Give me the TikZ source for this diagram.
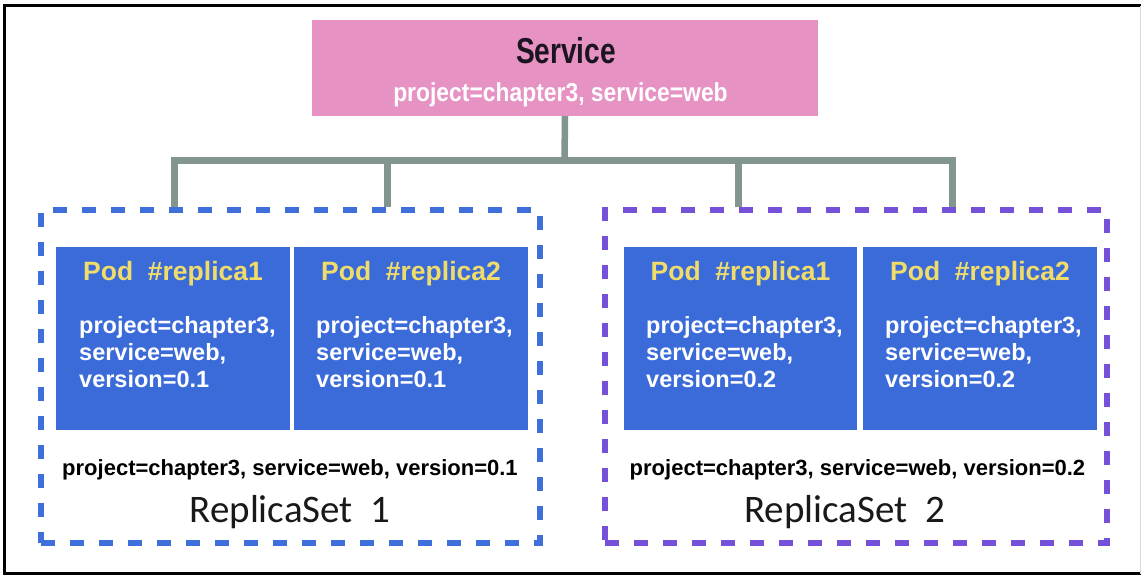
\documentclass[tikz,border=0pt]{standalone}
\usepackage{fontspec}
\setmainfont{Liberation Sans}
\newfontfamily\svcfont[FakeStretch=0.78]{Liberation Sans}
\newfontfamily\subfont[FakeStretch=0.88]{Liberation Sans}
\newfontfamily\calib{Carlito}
\definecolor{podblue}{HTML}{3B6BD9}
\definecolor{podyellow}{HTML}{F0DC6A}
\definecolor{rsblue}{HTML}{3E6FDB}
\definecolor{rspurple}{HTML}{7550D8}
\definecolor{svcpink}{HTML}{E693C4}
\definecolor{conn}{HTML}{82958F}
\definecolor{svcdark}{HTML}{1C1420}
\tikzset{
  podbox/.style={fill=podblue, draw=none, inner sep=0pt, minimum height=183pt},
  podtitle/.style={anchor=base, inner sep=0pt, text=podyellow, font=\bfseries\fontsize{26.5}{30}\selectfont},
  podline/.style={anchor=base west, inner sep=0pt, text=white, font=\bfseries\fontsize{23.5}{27}\selectfont},
  rslabel/.style={anchor=base, inner sep=0pt, text=black, font=\bfseries\fontsize{22}{26}\selectfont},
  rsname/.style={anchor=base, inner sep=0pt, text=black!90, font=\calib\fontsize{39}{44}\selectfont},
  rsbox/.style={draw=#1, line width=6pt, dash pattern=on 14pt off 15pt, inner sep=0pt, minimum width=499pt, minimum height=333pt},
  connline/.style={draw=conn, line width=6.5pt}
}
\begin{document}
\begin{tikzpicture}[x=1pt,y=-1pt]
\useasboundingbox (0,0) rectangle (1141,576);
\fill[white] (0,0) rectangle (1141,576);
% frame
\draw[line width=3pt] (1141,5.5) -- (4,5.5) -- (4,573.5) -- (1141,573.5);
\draw[black!15, line width=1pt] (1140.5,5.5) -- (1140.5,573.5);

% service
\node[fill=svcpink, inner sep=0pt, minimum width=506pt, minimum height=96pt] (svc) at (565,68) {};
\node[anchor=base, inner sep=0pt, text=svcdark, font=\svcfont\bfseries\fontsize{36}{40}\selectfont] (svct) at (566,63) {Service};
\node[anchor=base, inner sep=0pt, text=white, font=\subfont\bfseries\fontsize{26}{30}\selectfont] (svcs) at (560.5,101) {project=chapter3, service=web};

% replica sets
\node[rsbox=rsblue] (rs1) at (290.5,376.5) {};
\node[rsbox=rspurple, minimum width=502pt] (rs2) at (856,376.5) {};

% connectors
\coordinate (hub) at (564.5,160.5);
\coordinate (b1) at (174.5,160.5);
\coordinate (b2) at (387.5,160.5);
\coordinate (b3) at (738.5,160.5);
\coordinate (b4) at (952.5,160.5);
\draw[connline] (svc.south) -- (hub);
\draw[connline] ([xshift=-3.25pt]b1) -- ([xshift=3.25pt]b4);
\draw[connline] (b1) -- (b1 |- rs1.north);
\draw[connline] (b2) -- (b2 |- rs1.north);
\draw[connline] (b3) -- (b3 |- rs2.north);
\draw[connline] (b4) -- (b4 |- rs2.north);

% pods
\node[podbox, minimum width=234pt] (p11) at (173,338.5) {};
\node[podbox, minimum width=234pt] (p12) at (411,338.5) {};
\node[podbox, minimum width=233pt] (p21) at (740.5,338.5) {};
\node[podbox, minimum width=234pt] (p22) at (980,338.5) {};

\node[podtitle] (t11) at (173,280) {Pod\ \ \#replica1};
\node[podtitle] (t12) at (411,280) {Pod\ \ \#replica2};
\node[podtitle] (t21) at (740.5,280) {Pod\ \ \#replica1};
\node[podtitle] (t22) at (980,280) {Pod\ \ \#replica2};

\node[podline] (a11) at (79,333) {project=chapter3,};
\node[podline] (b11) at (79,360) {service=web,};
\node[podline] (c11) at (79,387) {version=0.1};
\node[podline] (a12) at (316,333) {project=chapter3,};
\node[podline] (b12) at (316,360) {service=web,};
\node[podline] (c12) at (316,387) {version=0.1};
\node[podline] (a21) at (646,333) {project=chapter3,};
\node[podline] (b21) at (646,360) {service=web,};
\node[podline] (c21) at (646,387) {version=0.2};
\node[podline] (a22) at (885,333) {project=chapter3,};
\node[podline] (b22) at (885,360) {service=web,};
\node[podline] (c22) at (885,387) {version=0.2};

% labels
\node[rslabel] (l1) at (290,475) {project=chapter3, service=web, version=0.1};
\node[rslabel] (l2) at (857.5,475) {project=chapter3, service=web, version=0.2};
\node[rsname] (n1) at (290,522) {ReplicaSet\ \ 1};
\node[rsname] (n2) at (844.5,522) {ReplicaSet\ \ 2};
\end{tikzpicture}
\end{document}
